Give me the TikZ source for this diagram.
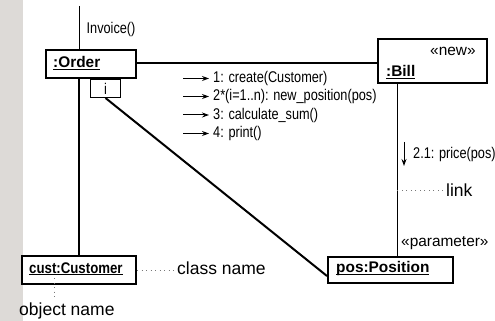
\documentclass[tikz,border=0pt]{standalone}
\usepackage{fontspec}
\setmainfont{Liberation Sans}
\newfontfamily\narrowfont[FakeStretch=0.82]{Liberation Sans}
\usetikzlibrary{arrows.meta}

% underline that sits just under the baseline, across descenders
\newcommand{\objname}[1]{\setbox0\hbox{#1}\rlap{\rule[-2.4pt]{\wd0}{1.3pt}}\box0}

\definecolor{stripgray}{RGB}{221,218,215}
\definecolor{dotgray}{RGB}{120,120,120}

\tikzset{
  objbox/.style={draw, line width=2pt, inner sep=0pt, fill=white},
  qualbox/.style={draw, line width=1pt, inner sep=0pt},
  objtext/.style={inner sep=0pt, anchor=base west, font=\bfseries\fontsize{15.4pt}{18pt}\selectfont},
  msgtext/.style={inner sep=0pt, anchor=base west, font=\narrowfont\fontsize{15.5pt}{18pt}\selectfont},
  notetext/.style={inner sep=0pt, anchor=base west, font=\fontsize{17.5pt}{20pt}\selectfont},
  stereo/.style={inner sep=0pt, anchor=base west, font=\fontsize{15.4pt}{18pt}\selectfont},
  strongline/.style={line width=2pt},
  thinline/.style={line width=1pt},
  msgarrow/.style={line width=1pt, -{Stealth[length=7pt,width=5pt]}},
  dotline/.style={line width=1pt, dotgray, dash pattern=on 1pt off 3.5pt},
}

\begin{document}
\begin{tikzpicture}[x=1pt, y=-1pt]
  \useasboundingbox (0,0) rectangle (495,321);
  \fill[stripgray] (0,0) rectangle (23,321);

  % objects
  \node[objbox, minimum width=90pt, minimum height=28pt] (order) at (91,64) {};
  \node[qualbox, minimum width=30pt, minimum height=18pt] (qual) at (105.5,88.5) {};
  \node[objbox, minimum width=109pt, minimum height=44pt] (bill) at (432.5,61) {};
  \node[objbox, minimum width=114pt, minimum height=28pt] (cust) at (79,270) {};
  \node[objbox, minimum width=125pt, minimum height=26pt] (pos) at (390.5,270) {};

  \node[objtext] (ordert) at (53,67.7) {\objname{:Order}};
  \node[msgtext, anchor=base] (qualt) at (105.5,94.5) {i};
  \node[objtext] (billt) at (386,76.7) {\objname{:Bill}};
  \node[stereo] (newt) at (430,56) {«new»};
  \node[objtext] (custt) at (29,273) {\objname{\scalebox{0.86}[1]{cust:Customer}}};
  \node[objtext] (post) at (336,272.7) {\objname{pos:Position}};
  \node[stereo] (paramt) at (401,246.7) {«parameter»};

  % links
  \coordinate (invtop) at (79,6);
  \draw[thinline] (invtop) -- (invtop |- order.north);
  \node[msgtext] (invt) at (86.5,33.3) {Invoice()};
  \draw[strongline] (cust.north) -- (cust.north |- order.south);
  \draw[strongline] ([yshift=1pt]order.east) -- ([yshift=1pt]order.east -| bill.west);
  \coordinate (billline) at ([xshift=-35.5pt]bill.south);
  \draw[thinline] (billline) -- (billline |- pos.north);
  \draw[strongline] (qual.south) -- ([yshift=8pt]pos.south west);

  % messages
  \node[msgtext] (m1) at (213,82.5) {1: create(Customer)};
  \node[msgtext] (m2) at (213,100.5) {2*(i=1..n): new\_position(pos)};
  \node[msgtext] (m3) at (213,119) {3: calculate\_sum()};
  \node[msgtext] (m4) at (213,137.5) {4: print()};
  \foreach \m in {m1,m2,m3,m4}
    \draw[msgarrow] ([xshift=-30pt]\m.west) -- ([xshift=-4pt]\m.west);
  \node[msgtext] (p21) at (413,158) {2.1: price(pos)};
  \draw[msgarrow] ([xshift=-9pt,yshift=12pt]p21.west) -- ([xshift=-9pt,yshift=-12pt]p21.west);

  % annotations
  \node[notetext] (linkt) at (446,196.7) {link};
  \draw[dotline] ([xshift=-3pt]linkt.west) -- ([xshift=-3pt]linkt.west -| billline);
  \node[notetext] (classt) at (177,274) {class name};
  \draw[dotline] (cust.east) -- ([xshift=-2pt]cust.east -| classt.west);
  \node[notetext] (objt) at (19,315) {object name};
  \coordinate (objtop) at (54,278);
  \draw[dotline] (objtop) -- ([yshift=2pt]objtop |- objt.north);
\end{tikzpicture}
\end{document}
